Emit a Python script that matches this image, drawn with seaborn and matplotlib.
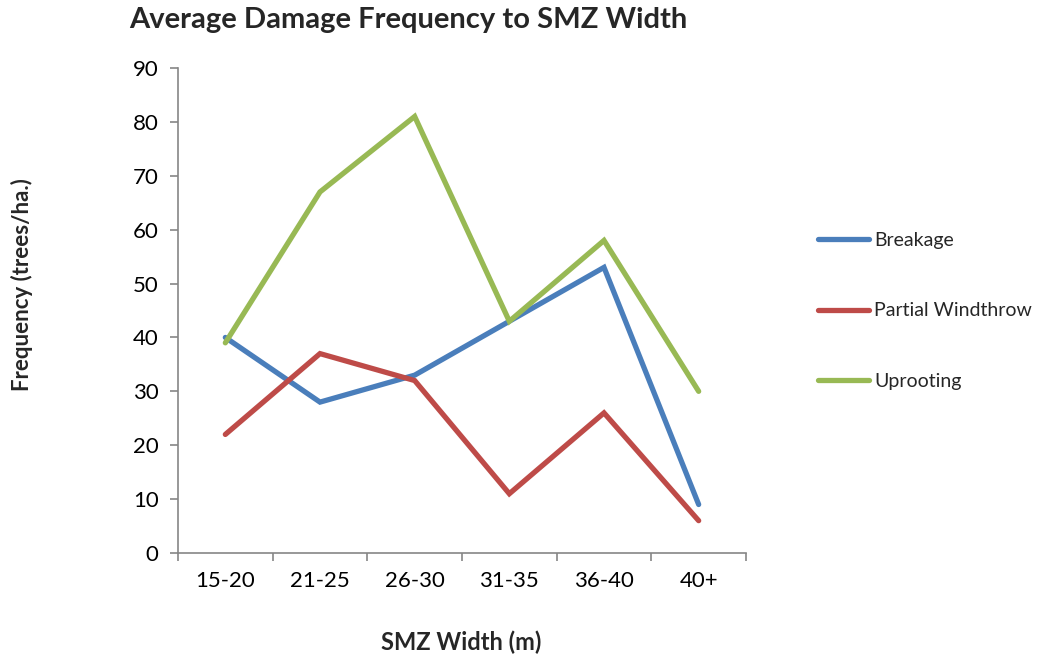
import matplotlib
matplotlib.use("Agg")
import matplotlib.pyplot as plt
import seaborn as sns
import pandas as pd
import numpy as np

categories = ["15-20", "21-25", "26-30", "31-35", "36-40", "40+"]
breakage = [40, 28, 33, 43, 53, 9]
partial_windthrow = [22, 37, 32, 11, 26, 6]
uprooting = [39, 67, 81, 43, 58, 30]
series_names = ["Breakage", "Partial Windthrow", "Uprooting"]
colors = ["#4A7EBB", "#BE4B48", "#98B954"]

rows = []
for name, vals in zip(series_names, [breakage, partial_windthrow, uprooting]):
    for i, v in enumerate(vals):
        rows.append({"x": i, "cat": categories[i], "value": v, "series": name})
df = pd.DataFrame(rows)

sns.set_style("white")
plt.rcParams["font.family"] = ["Lato", "DejaVu Sans"]

fig = plt.figure(figsize=(10.39, 6.58), dpi=100)
ax = fig.add_axes([178/1039, 1-553/658, (746-178)/1039, (553-68)/658])

sns.lineplot(data=df, x="x", y="value", hue="series", hue_order=series_names,
             palette=colors, linewidth=3.8, ax=ax, legend=False, sort=False)
for l in ax.lines:
    l.set_solid_capstyle("round")
    l.set_solid_joinstyle("miter")

ax.set_xlim(-0.5, len(categories) - 0.5)
ax.set_ylim(0, 90)
ax.set_yticks(np.arange(0, 91, 10))
ax.set_xticks(range(len(categories)))
ax.set_xticklabels(categories)
ax.set_xticks(np.arange(-0.5, len(categories), 1.0), minor=True)
ax.tick_params(axis="x", which="major", length=0, pad=13, labelsize=16, colors="black")
ax.tick_params(axis="x", which="minor", length=6, width=1.2, color="#868686", direction="out")
ax.tick_params(axis="y", which="major", length=6, width=1.2, color="#868686", direction="out",
               pad=8, labelsize=16, labelcolor="black")
ax.tick_params(axis="y", left=True)
ax.tick_params(axis="x", bottom=True, which="minor")
for s in ["top", "right"]:
    ax.spines[s].set_visible(False)
for s in ["left", "bottom"]:
    ax.spines[s].set_color("#868686")
    ax.spines[s].set_linewidth(1.2)
ax.set_xlabel("")
ax.set_ylabel("")

fig.text(408/1039, 1-20/658, "Average Damage Frequency to SMZ Width",
         ha="center", va="center", fontsize=21, fontweight="bold")
fig.text(461/1039, 1-642/658, "SMZ Width (m)", ha="center", va="center",
         fontsize=17, fontweight="bold")
fig.text(22/1039, 1-285/658, "Frequency (trees/ha.)", ha="center", va="center",
         rotation=90, fontsize=16, fontweight="bold")

from matplotlib.lines import Line2D
handles = [Line2D([0], [0], color=c, linewidth=3.8, solid_capstyle="round") for c in colors]
fig.legend(handles, series_names, loc="center left",
           bbox_to_anchor=(818/1039, 1-311/658), frameon=False,
           fontsize=14, handlelength=2.6, handletextpad=0.3,
           labelspacing=2.75, borderaxespad=0, borderpad=0)

fig.savefig("out.png", dpi=100)
